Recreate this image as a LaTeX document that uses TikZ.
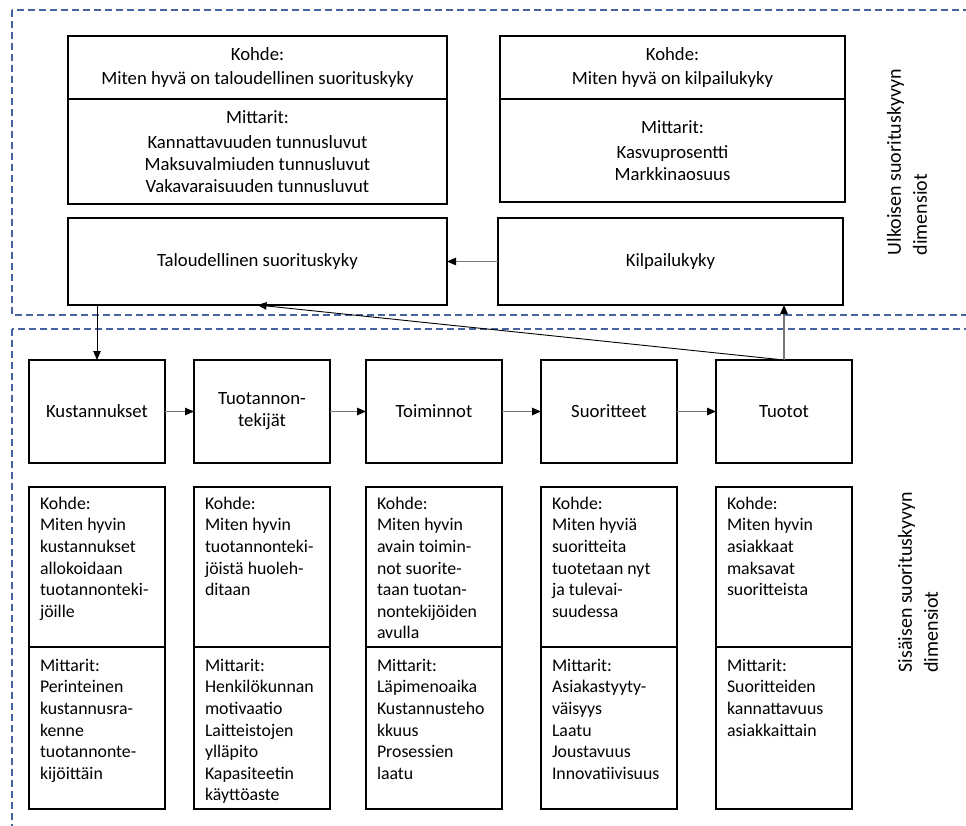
\documentclass[tikz,border=0pt]{standalone}
\usepackage{fontspec}
\setmainfont{Carlito}
\usetikzlibrary{arrows.meta}
\definecolor{framecol}{RGB}{68,99,160}
\definecolor{linkgray}{RGB}{120,120,120}

\begin{document}
\begin{tikzpicture}[x=1pt,y=-1pt,
  every node/.style={inner sep=0pt,outer sep=0pt},
  box/.style={draw,line width=1.1pt,anchor=north west,align=center,
    font=\fontsize{18.7}{22}\selectfont},
  wbox/.style={box,minimum width=136pt},
  lowtxt/.style={anchor=north west,align=left,
    font=\fontsize{17.8}{21.6}\selectfont},
  frame/.style={draw=framecol,line width=1.4pt,dash pattern=on 7pt off 4pt},
  tip/.style={-{Triangle[length=9pt,width=7.5pt,color=black]}},
  conn/.style={draw=black,line width=0.9pt,tip},
  gconn/.style={draw=linkgray,line width=1.1pt,tip},
  side/.style={rotate=90,align=left,font=\fontsize{20}{26}\selectfont}
]
\useasboundingbox (0,0) rectangle (966,825);

% dashed frames of the two dimension groups
\begin{scope}
  \clip (0,0) rectangle (966,825);
  \draw[frame] (12,10) rectangle (1000,315);
  \draw[frame] (12,329) rectangle (1000,860);
\end{scope}

% external dimension: target and metrics boxes
\node[box,minimum width=379pt,minimum height=63pt] (k1) at (68,36)
  {Kohde:\\[2pt]Miten hyvä on taloudellinen suorituskyky};
\node[box,minimum width=379pt,minimum height=105pt] (m1) at (68,99)
  {Mittarit:\\[3pt]Kannattavuuden tunnusluvut\\Maksuvalmiuden tunnusluvut\\Vakavaraisuuden tunnusluvut};
\node[box,minimum width=345pt,minimum height=63pt] (k2) at (500,36)
  {Kohde:\\[2pt]Miten hyvä on kilpailukyky};
\node[box,minimum width=345pt,minimum height=103pt] (m2) at (500,99)
  {Mittarit:\\[3pt]Kasvuprosentti\\Markkinaosuus};

\node[box,minimum width=379pt,minimum height=87pt] (talo) at (68,218)
  {Taloudellinen suorituskyky};
\node[box,minimum width=345pt,minimum height=87pt] (kilp) at (498,218)
  {Kilpailukyky};

% internal dimension: chain of boxes
\node[wbox,minimum height=103pt] (kust) at (29,360) {Kustannukset};
\node[wbox,minimum height=103pt] (tekij) at (194,360) {Tuotannon-\\tekijät};
\node[wbox,minimum height=103pt] (toim) at (366,360) {Toiminnot};
\node[wbox,minimum height=103pt] (suor) at (541,360) {Suoritteet};
\node[wbox,minimum height=103pt] (tuot) at (716,360) {Tuotot};

% internal dimension: target and metrics boxes
\foreach \n/\x in {a/29,b/194,c/366,d/541,e/716}{
  \node[wbox,minimum height=160pt] (kk\n) at (\x,487) {};
  \node[wbox,minimum height=162pt] (mm\n) at (\x,647) {};
}

\node[lowtxt] (tka) at ([shift={(11,10)}]kka.north west)
  {Kohde:\\Miten hyvin\\kustannukset\\allokoidaan\\tuotannonteki-\\jöille};
\node[lowtxt] (tkb) at ([shift={(11,10)}]kkb.north west)
  {Kohde:\\Miten hyvin\\tuotannonteki-\\jöistä huoleh-\\ditaan};
\node[lowtxt] (tkc) at ([shift={(11,10)}]kkc.north west)
  {Kohde:\\Miten hyvin\\avain toimin-\\not suorite-\\taan tuotan-\\nontekijöiden\\avulla};
\node[lowtxt] (tkd) at ([shift={(11,10)}]kkd.north west)
  {Kohde:\\Miten hyviä\\suoritteita\\tuotetaan nyt\\ja tulevai-\\suudessa};
\node[lowtxt] (tke) at ([shift={(11,10)}]kke.north west)
  {Kohde:\\Miten hyvin\\asiakkaat\\maksavat\\suoritteista};

\node[lowtxt] (tma) at ([shift={(11,12)}]mma.north west)
  {Mittarit:\\Perinteinen\\kustannusra-\\kenne\\tuotannonte-\\kijöittäin};
\node[lowtxt] (tmb) at ([shift={(11,12)}]mmb.north west)
  {Mittarit:\\Henkilökunnan\\motivaatio\\Laitteistojen\\ylläpito\\Kapasiteetin\\käyttöaste};
\node[lowtxt] (tmc) at ([shift={(11,12)}]mmc.north west)
  {Mittarit:\\Läpimenoaika\\Kustannusteho\\kkuus\\Prosessien\\laatu};
\node[lowtxt] (tmd) at ([shift={(11,12)}]mmd.north west)
  {Mittarit:\\Asiakastyyty-\\väisyys\\Laatu\\Joustavuus\\Innovatiivisuus};
\node[lowtxt] (tme) at ([shift={(11,12)}]mme.north west)
  {Mittarit:\\Suoritteiden\\kannattavuus\\asiakkaittain};

% side labels
\node[side] (ulk) at (907,162) {Ulkoisen suorituskyvyn\\dimensiot};
\node[side] (sis) at (918,582) {Sisäisen suorituskyvyn\\dimensiot};

% connectors
\draw[gconn] (kilp.west) -- (talo.east);
\draw[gconn] (kust.east) -- (tekij.west);
\draw[gconn] (tekij.east) -- (toim.west);
\draw[gconn] (toim.east) -- (suor.west);
\draw[gconn] (suor.east) -- (tuot.west);
\draw[conn] (talo.south -| kust.north) -- (kust.north);
\draw[gconn] (tuot.north) -- (tuot.north |- kilp.south);
\draw[conn] (tuot.north) -- (talo.south);
\end{tikzpicture}
\end{document}
